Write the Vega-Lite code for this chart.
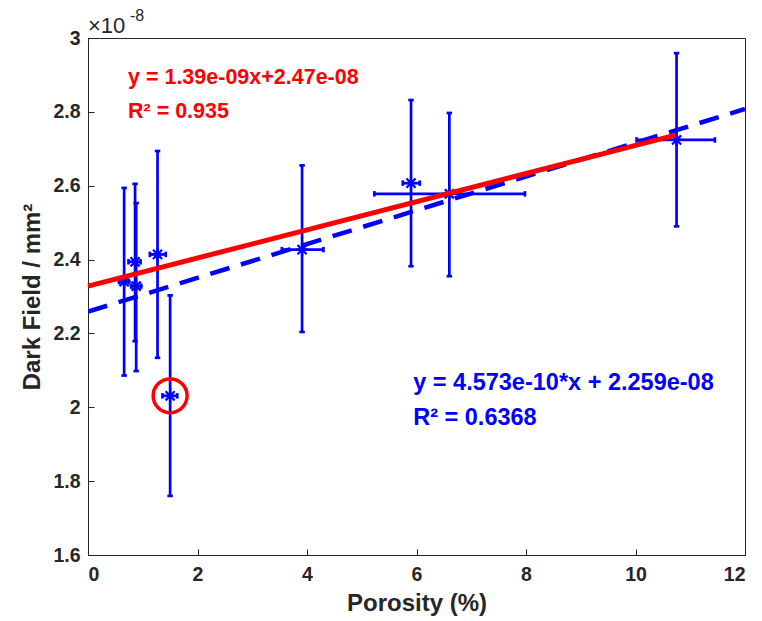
{
  "$schema": "https://vega.github.io/schema/vega-lite/v6.json",
  "width": 657,
  "height": 517,
  "autosize": "none",
  "padding": {"left": 88, "top": 38, "right": 17, "bottom": 66},
  "background": "white",
  "config": {
    "view": {"stroke": "#262626", "strokeWidth": 1},
    "font": "Liberation Sans",
    "axis": {
      "grid": false,
      "domainColor": "#262626",
      "tickColor": "#262626",
      "labelColor": "#262626",
      "titleColor": "#262626",
      "labelFont": "Liberation Sans",
      "titleFont": "Liberation Sans",
      "labelFontSize": 19.5,
      "labelFontWeight": "bold",
      "titleFontSize": 24,
      "titleFontWeight": "bold",
      "tickSize": -6
    }
  },
  "datasets": {
    "pts": [
      {"x": 0.66, "y": 2.340, "ylo": 2.086, "yhi": 2.594, "xlo": 0.57, "xhi": 0.75},
      {"x": 0.86, "y": 2.394, "ylo": 2.179, "yhi": 2.605, "xlo": 0.74, "xhi": 0.96},
      {"x": 0.88, "y": 2.328, "ylo": 2.098, "yhi": 2.553, "xlo": 0.79, "xhi": 0.97},
      {"x": 1.27, "y": 2.414, "ylo": 2.134, "yhi": 2.694, "xlo": 1.13, "xhi": 1.42},
      {"x": 1.50, "y": 2.031, "ylo": 1.760, "yhi": 2.303, "xlo": 1.36, "xhi": 1.63},
      {"x": 3.91, "y": 2.427, "ylo": 2.204, "yhi": 2.655, "xlo": 3.54, "xhi": 4.30},
      {"x": 5.90, "y": 2.607, "ylo": 2.382, "yhi": 2.832, "xlo": 5.75, "xhi": 6.06},
      {"x": 6.60, "y": 2.578, "ylo": 2.355, "yhi": 2.797, "xlo": 5.23, "xhi": 7.98},
      {"x": 10.75, "y": 2.724, "ylo": 2.490, "yhi": 2.959, "xlo": 10.02, "xhi": 11.45}
    ],
    "blueFit": [{"x": 0, "y": 2.259}, {"x": 12, "y": 2.8078}],
    "redFit": [{"x": 0, "y": 2.328}, {"x": 10.73, "y": 2.737}],
    "outlier": [{"x": 1.50, "y": 2.031}],
    "redLabels": [
      {"x": 0.73, "y": 2.876, "t": "y = 1.39e-09x+2.47e-08"},
      {"x": 0.73, "y": 2.784, "t": "R² = 0.935"}
    ],
    "blueLabels": [
      {"x": 5.94, "y": 2.046, "t": "y = 4.573e-10*x + 2.259e-08"},
      {"x": 5.94, "y": 1.951, "t": "R² = 0.6368"}
    ],
    "exp": [{"x": 0, "y": 3, "base": "×10", "sup": "-8"}]
  },
  "encoding": {
    "x": {
      "field": "x", "type": "quantitative",
      "scale": {"domain": [0, 12], "nice": false, "zero": false},
      "axis": {"title": "Porosity (%)", "values": [0, 2, 4, 6, 8, 10, 12], "format": "d", "labelPadding": 16, "titlePadding": 8}
    },
    "y": {
      "field": "y", "type": "quantitative",
      "scale": {"domain": [1.6, 3], "nice": false, "zero": false},
      "axis": {"title": "Dark Field / mm²", "values": [1.6, 1.8, 2, 2.2, 2.4, 2.6, 2.8, 3], "format": ".1~f", "labelPadding": 14, "titlePadding": 8}
    }
  },
  "layer": [
    {
      "data": {"name": "blueFit"},
      "mark": {"type": "line", "color": "#0000ff", "strokeWidth": 4.5, "strokeDash": [20, 12], "clip": true}
    },
    {
      "data": {"name": "pts"},
      "mark": {"type": "rule", "color": "#0000ff", "strokeWidth": 2.7},
      "encoding": {"y": {"field": "ylo", "type": "quantitative"}, "y2": {"field": "yhi"}}
    },
    {
      "data": {"name": "pts"},
      "mark": {"type": "rule", "color": "#0000ff", "strokeWidth": 2.7},
      "encoding": {"x": {"field": "xlo", "type": "quantitative"}, "x2": {"field": "xhi"}}
    },
    {
      "data": {"name": "pts"},
      "mark": {"type": "point", "shape": "M -1 0 L 1 0", "filled": false, "color": "#0000ff", "strokeWidth": 2.7, "size": 30, "opacity": 1},
      "encoding": {"y": {"field": "ylo", "type": "quantitative"}}
    },
    {
      "data": {"name": "pts"},
      "mark": {"type": "point", "shape": "M -1 0 L 1 0", "filled": false, "color": "#0000ff", "strokeWidth": 2.7, "size": 30, "opacity": 1},
      "encoding": {"y": {"field": "yhi", "type": "quantitative"}}
    },
    {
      "data": {"name": "pts"},
      "mark": {"type": "point", "shape": "M 0 -1 L 0 1", "filled": false, "color": "#0000ff", "strokeWidth": 2.7, "size": 30, "opacity": 1},
      "encoding": {"x": {"field": "xlo", "type": "quantitative"}}
    },
    {
      "data": {"name": "pts"},
      "mark": {"type": "point", "shape": "M 0 -1 L 0 1", "filled": false, "color": "#0000ff", "strokeWidth": 2.7, "size": 30, "opacity": 1},
      "encoding": {"x": {"field": "xhi", "type": "quantitative"}}
    },
    {
      "data": {"name": "pts"},
      "mark": {"type": "point", "shape": "M -1 0 L 1 0 M 0 -1 L 0 1 M -0.7 -0.7 L 0.7 0.7 M -0.7 0.7 L 0.7 -0.7", "filled": false, "color": "#0000ff", "strokeWidth": 2.2, "size": 170, "opacity": 1}
    },
    {
      "data": {"name": "redFit"},
      "mark": {"type": "line", "color": "#ff0000", "strokeWidth": 5}
    },
    {
      "data": {"name": "outlier"},
      "mark": {"type": "point", "shape": "circle", "filled": false, "color": "#ff0000", "strokeWidth": 3.5, "size": 1150, "opacity": 1}
    },
    {
      "data": {"name": "redLabels"},
      "mark": {"type": "text", "align": "left", "baseline": "alphabetic", "fontSize": 21.5, "fontWeight": "bold", "font": "Liberation Sans", "color": "#ff0000"},
      "encoding": {"text": {"field": "t"}}
    },
    {
      "data": {"name": "blueLabels"},
      "mark": {"type": "text", "align": "left", "baseline": "alphabetic", "fontSize": 23.5, "fontWeight": "bold", "font": "Liberation Sans", "color": "#0000ff"},
      "encoding": {"text": {"field": "t"}}
    },
    {
      "data": {"name": "exp"},
      "mark": {"type": "text", "align": "left", "baseline": "alphabetic", "fontSize": 22, "font": "Liberation Sans", "color": "#262626", "dy": -5, "clip": false},
      "encoding": {"text": {"field": "base"}}
    },
    {
      "data": {"name": "exp"},
      "mark": {"type": "text", "align": "left", "baseline": "alphabetic", "fontSize": 16, "font": "Liberation Sans", "color": "#262626", "dx": 42, "dy": -17, "clip": false},
      "encoding": {"text": {"field": "sup"}}
    }
  ]
}
